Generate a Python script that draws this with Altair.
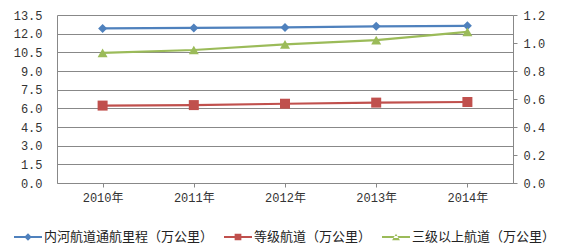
import altair as alt
import pandas as pd

years = ["2010年", "2011年", "2012年", "2013年", "2014年"]
series_names = ["内河航道通航里程（万公里）", "等级航道（万公里）", "三级以上航道（万公里）"]
inland = [12.42, 12.46, 12.50, 12.59, 12.63]
graded = [6.22, 6.26, 6.37, 6.46, 6.51]
above3 = [0.93, 0.95, 0.99, 1.02, 1.08]
colors = ["#4F81BD", "#C0504D", "#9BBB59"]
left_ticks = [0, 1.5, 3, 4.5, 6, 7.5, 9, 10.5, 12, 13.5]
right_ticks = [0, 0.2, 0.4, 0.6, 0.8, 1.0, 1.2]

rows = []
for name, vals in zip(series_names, [inland, graded, above3]):
    for y, v in zip(years, vals):
        rows.append({"year": y, "series": name, "value": v})
df = pd.DataFrame(rows)

NUMFONT = "Liberation Mono, Noto Sans CJK SC"
CJK = "Noto Sans CJK SC"

x_enc = alt.X("year:N", sort=years, scale=alt.Scale(type="point", padding=0.5),
              axis=alt.Axis(title=None, labelAngle=0, domainColor="#888888", tickColor="#888888",
                            tickSize=4, labelPadding=5, labelFont=NUMFONT, labelFontSize=12,
                            labelColor="#333333", grid=False))

y_left = alt.Y("value:Q", scale=alt.Scale(domain=[0, 13.5], nice=False, zero=True),
               axis=alt.Axis(title=None, orient="left", values=left_ticks, format=".1f",
                             ticks=False, labelPadding=15, domainColor="#888888",
                             gridColor="#888888", grid=True, labelFont=NUMFONT,
                             labelFontSize=12, labelColor="#333333"))
y_right = alt.Y("value:Q", scale=alt.Scale(domain=[0, 1.2], nice=False, zero=True),
                axis=alt.Axis(title=None, orient="right", values=right_ticks, format=".1f",
                              tickSize=4, tickColor="#888888", labelPadding=6,
                              domainColor="#888888", grid=False, labelFont=NUMFONT,
                              labelFontSize=12, labelColor="#333333"))

base = alt.Chart(df)
shapes = ["diamond", "square", "triangle-up"]
sizes = [81, 100, 100]


def series_layers(i, y_enc):
    b = base.transform_filter(alt.datum.series == series_names[i])
    line = b.mark_line(strokeWidth=2.2, color=colors[i]).encode(x=x_enc, y=y_enc)
    pts = b.mark_point(filled=True, opacity=1, color=colors[i], shape=shapes[i],
                       size=sizes[i]).encode(x=x_enc, y=y_enc)
    return [line, pts]


legend_paths = [
    "M-1,-0.08H1V0.08H-1Z M0,-0.27L0.27,0L0,0.27L-0.27,0Z",
    "M-1,-0.08H1V0.08H-1Z M-0.24,-0.24H0.24V0.24H-0.24Z",
    "M-1,-0.08H1V0.08H-1Z M-0.28,0.24L0.28,0.24L0,-0.24Z",
]

legend_layer = base.transform_filter(alt.datum.value < 0).mark_point(
    filled=True, opacity=1, fillOpacity=1).encode(
    x=x_enc, y=y_left,
    color=alt.Color("series:N", scale=alt.Scale(domain=series_names, range=colors),
                    legend=alt.Legend(title=None, orient="none", legendX=-43, legendY=208,
                                      direction="horizontal", columns=3, symbolSize=784,
                                      symbolStrokeWidth=0, symbolOpacity=1, labelFont=CJK,
                                      labelFontSize=13, labelColor="#222222", labelOffset=2,
                                      columnPadding=10, labelLimit=400)),
    shape=alt.Shape("series:N", scale=alt.Scale(domain=series_names, range=legend_paths)),
)

left = alt.layer(*series_layers(0, y_left), *series_layers(1, y_left), legend_layer)
right = alt.layer(*series_layers(2, y_right))

chart = alt.layer(left, right).resolve_scale(y="independent").properties(
    width=456, height=168,
    autosize=alt.AutoSizeParams(type="none"),
    padding={"left": 57, "top": 15, "right": 57, "bottom": 63},
).configure_view(stroke=None)

chart.save("out.html", embed_options={"renderer": "svg", "actions": False})
